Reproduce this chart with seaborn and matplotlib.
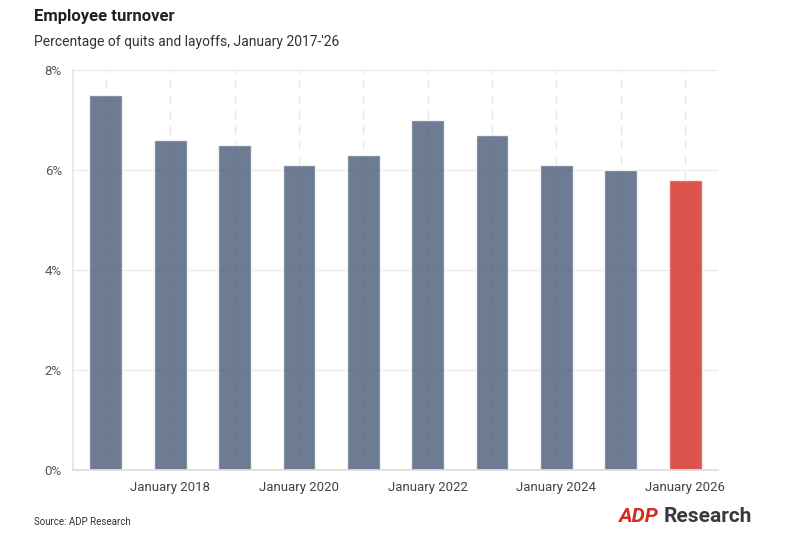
import matplotlib
matplotlib.use("Agg")
import matplotlib.pyplot as plt
import seaborn as sns
import pandas as pd

years = [2017, 2018, 2019, 2020, 2021, 2022, 2023, 2024, 2025, 2026]
turnover = [7.5, 6.6, 6.5, 6.1, 6.3, 7.0, 6.7, 6.1, 6.0, 5.8]
yticks = [0, 2, 4, 6, 8]

sns.set_theme(style="white")
plt.rcParams['font.family'] = ['Roboto', 'DejaVu Sans']

df = pd.DataFrame({"year": [str(y) for y in years], "v": turnover})
colors = ["#4a5b78"] * 9 + ["#d42b1f"]

fig = plt.figure(figsize=(7.87, 5.37), dpi=100)
ax = fig.add_axes([73/787, 67/537, 645/787, 400/537])
for i in range(len(years)):
    ax.axvline(i, color="#e6e6e6", lw=1, ls=(0, (6, 5)), zorder=0)
for t in yticks:
    ax.axhline(t, color="#ebebeb", lw=1, zorder=0)
sns.barplot(data=df, x="year", y="v", hue="year", palette=colors, legend=False,
            width=0.51, alpha=0.8, ax=ax, zorder=2, saturation=1)
ax.set_xlim(-0.51, len(years) - 0.49)
ax.set_ylim(0, 8)
ax.set_yticks(yticks)
ax.set_yticklabels([f"{t}%" for t in yticks], color="#555555", fontsize=9.5)
ax.set_xticks(range(1, len(years), 2))
ax.set_xticklabels([f"January {y}" for y in years[1::2]], color="#444444", fontsize=9.5)
ax.tick_params(axis="x", length=5, color="#dddddd", pad=3)
ax.tick_params(axis="y", length=0, pad=8)
ax.set_xlabel(""); ax.set_ylabel("")
for s in ["top", "right"]:
    ax.spines[s].set_visible(False)
ax.spines["left"].set_color("#e6e6e6")
ax.spines["bottom"].set_color("#dddddd")

fig.text(34/787, 1 - 17/537, "Employee turnover", fontsize=12, fontweight="bold", color="#222222", va="center")
fig.text(34/787, 1 - 42/537, "Percentage of quits and layoffs, January 2017-'26", fontsize=10, color="#333333", va="center")
fig.text(34/787, 1 - 522/537, "Source: ADP Research", fontsize=7, color="#333333", va="center")
fig.text(618/787, 1 - 517/537, "ADP", fontsize=15, fontweight="bold", fontstyle="italic", color="#d42b1f", va="center")
fig.text(664/787, 1 - 517/537, "Research", fontsize=15, fontweight="bold", color="#3a3a3a", va="center")
fig.savefig("out.png", dpi=100)
